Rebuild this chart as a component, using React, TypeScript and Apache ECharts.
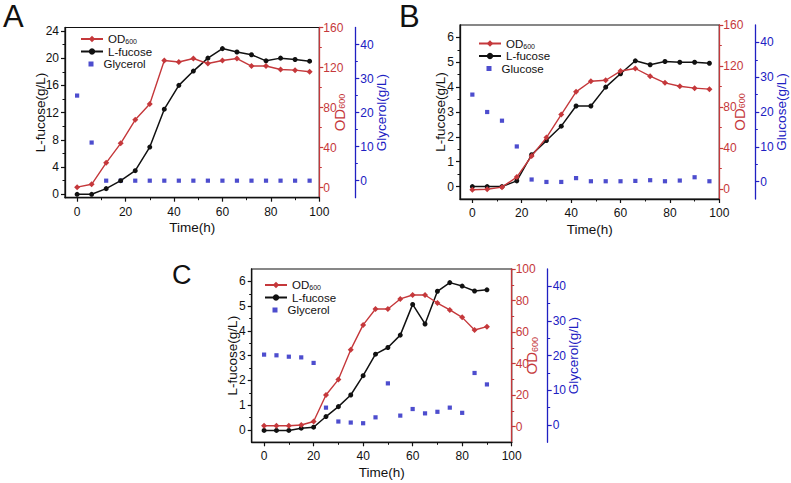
import React, { useEffect, useRef } from "react";
import * as echarts from "echarts";

// ---------- data ----------
const timeAB = [0, 6, 12, 18, 24, 30, 36, 42, 48, 54, 60, 66, 72, 78, 84, 90, 96];
const timeC = [0, 5, 10, 15, 20, 25, 30, 35, 40, 45, 50, 55, 60, 65, 70, 75, 80, 85, 90];

const odA = [0.5, 3.4, 24.8, 44.3, 67.8, 83.6, 127, 125.5, 129, 124, 127, 129, 121.5, 121.5, 118, 117.4, 115.8];
const fucA = [0, 0, 0.83, 2.0, 3.47, 6.94, 12.5, 16.0, 18.1, 20.0, 21.4, 20.9, 20.5, 19.6, 20.0, 19.8, 19.55];
const glyA = [25.0, 11.2, 0, 0, 0, 0, 0, 0, 0, 0, 0, 0, 0, 0, 0, 0, 0];

const odB = [-1, -0.5, 1.6, 11.4, 32, 50, 72.5, 94.7, 105, 106, 115, 117.5, 110, 103.5, 100.2, 98.3, 97.3];
const fucB = [0, 0, 0, 0.23, 1.28, 1.85, 2.43, 3.24, 3.24, 4.0, 4.54, 5.06, 4.9, 5.03, 5.0, 5.0, 4.96];
const gluB = [25.0, 20.0, 17.5, 10.1, 0.6, -0.1, -0.1, 1.0, 0.1, 0.1, 0.1, 0.2, 0.4, 0.1, 0.3, 1.25, 0.1];

const odC = [0.5, 0.5, 0.5, 1.0, 3.2, 20, 29.8, 48.8, 64.5, 74.6, 74.6, 81, 83.5, 83.5, 78.4, 74, 69.3, 61.3, 63.4];
const fucC = [-0.02, -0.02, -0.02, 0.07, 0.11, 0.54, 0.94, 1.41, 2.19, 3.06, 3.33, 3.83, 5.07, 4.28, 5.6, 5.95, 5.81, 5.61, 5.66];
const glyC = [20.3, 20.1, 19.7, 19.5, 17.9, 5.0, 1.0, 0.7, 0.5, 2.2, 12.0, 2.7, 4.6, 3.35, 3.8, 5.0, 3.5, 15.0, 11.7];

// tick labels
const xTicks = [0, 20, 40, 60, 80, 100];
const xMinor = [10, 30, 50, 70, 90];
const fucTicksA = [0, 4, 8, 12, 16, 20, 24];
const fucMinorA = [2, 6, 10, 14, 18, 22];
const fucTicksBC = [0, 1, 2, 3, 4, 5, 6];
const fucMinorBC = [0.5, 1.5, 2.5, 3.5, 4.5, 5.5];
const odTicksAB = [0, 40, 80, 120, 160];
const odMinorAB = [20, 60, 100, 140];
const odTicksC = [0, 20, 40, 60, 80, 100];
const odMinorC = [10, 30, 50, 70, 90];
const sugarTicks = [0, 10, 20, 30, 40];
const sugarMinor = [5, 15, 25, 35];

const RED = "#c5383b";
const BLUE = "#2020c2";
const BLACK = "#111111";
const FONT = "Liberation Sans, Arial, sans-serif";

const zip = (xs: number[], ys: number[]) => xs.map((x, i) => [x, ys[i]]);

const panels = [
  {
    letter: "A", letterX: 3, letterY: 16.5, letterSize: 31,
    grid: { left: 65, top: 27.5, width: 254.3, height: 170.2 },
    time: timeAB, od: odA, fuc: fucA, sugar: glyA, sugarName: "Glycerol",
    fucMin: -0.5, fucMax: 24.5, fucTicks: fucTicksA, fucMinor: fucMinorA, fucGap: 18,
    odMin: -10, odMax: 160, odTicks: odTicksAB, odMinor: odMinorAB,
    sugarLabel: "Glycerol(g/L)",
    legendLeft: 80, legendTop: 33,
  },
  {
    letter: "B", letterX: 399, letterY: 16.5, letterSize: 31,
    grid: { left: 460, top: 25, width: 259.3, height: 174 },
    time: timeAB, od: odB, fuc: fucB, sugar: gluB, sugarName: "Glucose",
    fucMin: -0.5, fucMax: 6.5, fucTicks: fucTicksBC, fucMinor: fucMinorBC, fucGap: 12.5,
    odMin: -10, odMax: 160, odTicks: odTicksAB, odMinor: odMinorAB,
    sugarLabel: "Glucose(g/L)",
    legendLeft: 478, legendTop: 37.5,
  },
  {
    letter: "C", letterX: 172, letterY: 275, letterSize: 27,
    grid: { left: 251.7, top: 269, width: 260, height: 173.3 },
    time: timeC, od: odC, fuc: fucC, sugar: glyC, sugarName: "Glycerol",
    fucMin: -0.5, fucMax: 6.5, fucTicks: fucTicksBC, fucMinor: fucMinorBC, fucGap: 12,
    odMin: -10, odMax: 100, odTicks: odTicksC, odMinor: odMinorC,
    sugarLabel: "Glycerol(g/L)",
    legendLeft: 264, legendTop: 279,
  },
];

function buildOption() {
  const grids: any[] = [];
  const xAxes: any[] = [];
  const yAxes: any[] = [];
  const series: any[] = [];
  const legends: any[] = [];
  const graphics: any[] = [];

  const richSub = (color: string, size: number) => ({
    sub: { fontSize: size, color, verticalAlign: "bottom", fontFamily: FONT },
  });

  panels.forEach((p, i) => {
    grids.push({
      ...p.grid,
      show: true,
      borderColor: BLACK,
      borderWidth: 1.2,
      backgroundColor: "transparent",
      containLabel: false,
      outerBoundsMode: "none",
    });

    xAxes.push({
      type: "value",
      gridIndex: i,
      min: -5,
      max: 100,
      position: "bottom",
      splitLine: { show: false },
      name: "Time(h)",
      nameLocation: "middle",
      nameGap: 23,
      nameMoveOverlap: false,
      nameTextStyle: { color: BLACK, fontSize: 13.5, fontFamily: FONT },
      axisLine: { show: true, onZero: false, lineStyle: { color: BLACK, width: 1.3 } },
      axisTick: { show: true, length: 4, customValues: xTicks, lineStyle: { color: BLACK, width: 1.2 } },
      axisLabel: { show: true, customValues: xTicks, color: BLACK, fontSize: 12, margin: 8, fontFamily: FONT },
    });

    const yDefs = [
      {
        pos: "left", off: 0, min: p.fucMin, max: p.fucMax, ticks: p.fucTicks, color: BLACK,
        name: "L-fucose(g/L)", gap: p.fucGap, size: 13.5, margin: 6,
      },
      {
        pos: "right", off: 0, min: p.odMin, max: p.odMax, ticks: p.odTicks, color: RED,
        name: "OD{sub|600}", gap: 12.5, size: 15, margin: 4,
      },
      {
        pos: "right", off: 36, min: -5, max: 45, ticks: sugarTicks, color: BLUE,
        name: p.sugarLabel, gap: 19, size: 13.5, margin: 5,
      },
    ];
    yDefs.forEach((d) => {
      yAxes.push({
        type: "value",
        gridIndex: i,
        position: d.pos,
        offset: d.off,
        min: d.min,
        max: d.max,
        name: d.name,
        nameLocation: "middle",
        nameGap: d.gap,
        nameRotate: 90,
        nameMoveOverlap: false,
        nameTextStyle: { color: d.color, fontSize: d.size, fontFamily: FONT, rich: richSub(d.color, 9) },
        axisLine: { show: true, onZero: false, lineStyle: { color: d.color, width: 1.3 } },
        axisTick: { show: true, length: 4, customValues: d.ticks, lineStyle: { color: d.color, width: 1.2 } },
        axisLabel: { show: true, customValues: d.ticks, color: d.color, fontSize: 12, margin: d.margin, fontFamily: FONT },
        splitLine: { show: false },
      });
    });
  });

  // minor tick axes
  panels.forEach((p, i) => {
    xAxes.push({
      type: "value",
      gridIndex: i,
      min: -5,
      max: 100,
      position: "bottom",
      axisLine: { show: false, onZero: false },
      axisTick: { show: true, length: 2.5, customValues: xMinor, lineStyle: { color: BLACK, width: 1 } },
      axisLabel: { show: false },
      splitLine: { show: false },
    });
    const minorDefs = [
      { pos: "left", off: 0, min: p.fucMin, max: p.fucMax, ticks: p.fucMinor, color: BLACK },
      { pos: "right", off: 0, min: p.odMin, max: p.odMax, ticks: p.odMinor, color: RED },
      { pos: "right", off: 36, min: -5, max: 45, ticks: sugarMinor, color: BLUE },
    ];
    minorDefs.forEach((d) => {
      yAxes.push({
        type: "value",
        gridIndex: i,
        position: d.pos,
        offset: d.off,
        min: d.min,
        max: d.max,
        axisLine: { show: false, onZero: false },
        axisTick: { show: true, length: 2.5, customValues: d.ticks, lineStyle: { color: d.color, width: 1 } },
        axisLabel: { show: false },
        splitLine: { show: false },
      });
    });
  });

  panels.forEach((p, i) => {
    series.push({
      type: "scatter",
      name: p.sugarName,
      xAxisIndex: i,
      yAxisIndex: i * 3 + 2,
      data: zip(p.time, p.sugar),
      symbol: "rect",
      symbolSize: 4.2,
      itemStyle: { color: BLUE },
      z: 2,
    });
    series.push({
      type: "line",
      name: "L-fucose",
      xAxisIndex: i,
      yAxisIndex: i * 3,
      data: zip(p.time, p.fuc),
      symbol: "circle",
      symbolSize: 5,
      showSymbol: true,
      lineStyle: { color: BLACK, width: 1.5 },
      itemStyle: { color: BLACK },
      z: 3,
    });
    series.push({
      type: "line",
      name: "OD600",
      xAxisIndex: i,
      yAxisIndex: i * 3 + 1,
      data: zip(p.time, p.od),
      symbol: "diamond",
      symbolSize: 6,
      showSymbol: true,
      lineStyle: { color: RED, width: 1.4 },
      itemStyle: { color: RED },
      z: 4,
    });

    legends.push({
      orient: "vertical",
      left: p.legendLeft,
      top: p.legendTop,
      padding: 0,
      itemGap: 0.5,
      itemWidth: 22,
      itemHeight: 8,
      data: ["OD600", "L-fucose"],
      selectedMode: false,
      formatter: (n: string) => (n === "OD600" ? "OD{sub|600}" : n),
      textStyle: {
        color: BLACK,
        fontSize: 11.5,
        lineHeight: 12,
        fontFamily: FONT,
        rich: { sub: { fontSize: 7, color: BLACK, verticalAlign: "bottom", fontFamily: FONT } },
      },
    });
    legends.push({
      orient: "vertical",
      left: p.legendLeft + 8.5,
      top: p.legendTop + 25,
      padding: 0,
      itemWidth: 5,
      itemHeight: 5,
      icon: "rect",
      data: [p.sugarName],
      selectedMode: false,
      textStyle: { color: BLACK, fontSize: 11.5, lineHeight: 12, fontFamily: FONT, padding: [0, 0, 0, 5] },
    });

    graphics.push({
      type: "text",
      left: p.letterX,
      top: p.letterY - p.letterSize / 2,
      style: {
        text: p.letter,
        fontSize: p.letterSize,
        fontFamily: FONT,
        fill: BLACK,
      },
    });
  });

  return {
    animation: false,
    backgroundColor: "#ffffff",
    textStyle: { fontFamily: FONT },
    grid: grids,
    xAxis: xAxes,
    yAxis: yAxes,
    legend: legends,
    series,
    graphic: graphics,
    tooltip: { show: false },
  };
}

export default function App() {
  const ref = useRef<HTMLDivElement>(null);
  useEffect(() => {
    if (!ref.current) return;
    const chart = echarts.init(ref.current, null, { renderer: "svg" });
    chart.setOption(buildOption() as any);
    return () => chart.dispose();
  }, []);
  return (
    <div
      ref={ref}
      style={{ position: "absolute", left: 0, top: 0, width: 791, height: 483, background: "#fff" }}
    />
  );
}
